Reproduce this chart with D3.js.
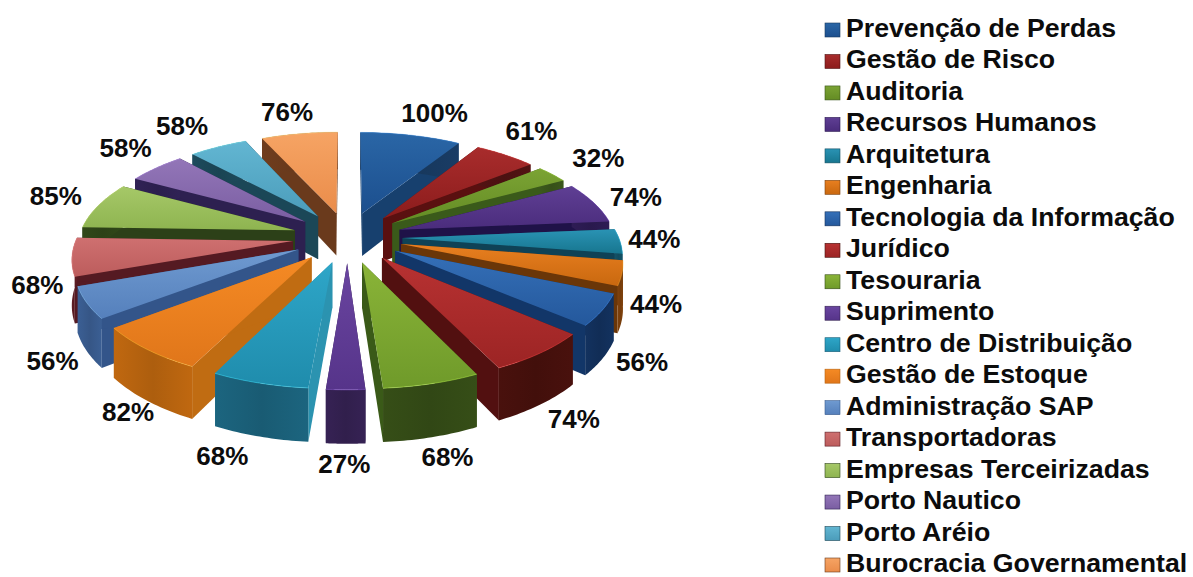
<!DOCTYPE html>
<html lang="pt">
<head>
<meta charset="utf-8">
<script src="https://cdn.jsdelivr.net/npm/d3@7/dist/d3.min.js"></script>
<style>
html,body{margin:0;padding:0;background:#fff;}
svg{display:block;}
text{font-family:"Liberation Sans",Arial,sans-serif;font-weight:bold;fill:#0c0c0c;}
</style>
</head>
<body>
<svg id="chart" width="1193" height="577"></svg>
<script>
// Áreas avaliadas e percentuais
const categories = ["Prevenção de Perdas","Gestão de Risco","Auditoria","Recursos Humanos","Arquitetura","Engenharia","Tecnologia da Informação","Jurídico","Tesouraria","Suprimento","Centro de Distribuição","Gestão de Estoque","Administração SAP","Transportadoras","Empresas Terceirizadas","Porto Nautico","Porto Aréio","Burocracia Governamental"];
const values = [100,61,32,74,44,44,56,74,68,27,68,82,56,68,85,58,58,76];

// Cores: face superior, parede externa e corte radial de cada fatia
const topLight = ["#2a66a6","#a82c2c","#7ba334","#5f3f94","#2a93b4","#e87f20","#3570b8","#b83232","#8ab438","#6a45a0","#2ea6c8","#f58a24","#6f9ad0","#cf7070","#a6c868","#9376b8","#62b6d2","#f6a464"];
const topDark = ["#1c4f8e","#8c1c1c","#648c24","#4a2c7c","#17768f","#c9680f","#24589c","#9c2424","#6f9a2a","#56348a","#1f8cac","#e0761a","#5580bc","#bc5c5c","#8eb450","#7a5ea2","#4b9cba","#ea8c4a"];
const wallColors = ["#18395f","#4e1212","#38531a","#2b1a50","#124e62","#7a3f0c","#122f5a","#45100c","#334a16","#33204f","#1a5f78","#b5620f","#385a8c","#5a1b22","#2e4418","#2d2050","#1b4757","#6a3a1c"];
const sideColors = ["#17406e","#5a1010","#3a5a1a","#1f1248","#0f4256","#6a3608","#123668","#521010","#3a5a18","#33204f","#2b93b0","#c06c12","#33558a","#551a22","#2c4018","#2d2050","#1b4757","#6a3a1c"];

const cx = 347.5, cy = 237;
const radius = 216, explode = 55, thickness = 44;
const tilt = 0.46, perspective = 0.00068;

// Ajuste fino (dx, dy) de cada rótulo em relação à posição radial
const labelNudge = [[18,-15],[7,-20],[16,-17],[-4,-15],[-30,-26],[-30,-7],[-19,-2],[-10,-6],[-3,-12],[-1,-13],[-18,-12],[26,-8],[26,8],[30,-3],[5,-19],[-4,-19],[-22,-15],[-8,-14]];

// Projeção em perspectiva: (X, Y, Z) no plano da pizza para a tela
const scaleAt = Y => 1 / (1 - perspective * Y);
const project = (X, Y, Z = 0) => {
  const s = scaleAt(Y);
  return [cx + X * s, cy + tilt * Y * s + Z * s];
};

const svg = d3.select("#chart");
const defs = svg.append("defs");

const vertical = (id, top, bottom) => {
  const g = defs.append("linearGradient").attr("id", id).attr("x1", 0).attr("y1", 0).attr("x2", 0).attr("y2", 1);
  g.append("stop").attr("offset", 0).attr("stop-color", top);
  g.append("stop").attr("offset", 1).attr("stop-color", bottom);
};
const wallGradient = (id, color) => {
  const base = d3.color(color);
  const g = defs.append("linearGradient").attr("id", id).attr("x1", 0).attr("y1", 0).attr("x2", 1).attr("y2", 0);
  [[0, 0.08], [0.5, -0.06], [1, 0.08]].forEach(([o, k]) => {
    g.append("stop").attr("offset", o).attr("stop-color", k > 0 ? base.brighter(k * 2) : base.darker(-k * 2));
  });
};

const pie = d3.pie().sort(null).value(d => d).startAngle(0).endAngle(2 * Math.PI);
const arcs = pie(values).map((a, i) => {
  const mid = (a.startAngle + a.endAngle) / 2;
  const ox = explode * Math.sin(mid), oy = -explode * Math.cos(mid);
  const samples = d3.range(0, 25).map(k => a.startAngle + (a.endAngle - a.startAngle) * k / 24);
  const rim = samples.map(t => [ox + radius * Math.sin(t), oy - radius * Math.cos(t)]);
  return {i, mid, ox, oy, rim, depth: oy + (radius * 0.6) * -Math.cos(mid)};
});

arcs.forEach(a => {
  vertical("top" + a.i, topLight[a.i], topDark[a.i]);
  wallGradient("wall" + a.i, wallColors[a.i]);
});

const line = d3.line();
const poly = pts => line(pts) + "Z";

// Desenho de trás para a frente
const slices = svg.append("g").selectAll("g")
  .data(arcs.slice().sort((p, q) => p.depth - q.depth))
  .join("g");

slices.each(function(a) {
  const g = d3.select(this);
  const apex = [a.ox, a.oy];
  [a.rim[0], a.rim[a.rim.length - 1]].forEach(end => {
    g.append("path")
      .attr("d", poly([project(...apex), project(...end), project(...end, thickness), project(...apex, thickness)]))
      .attr("fill", sideColors[a.i]);
  });
  const upper = a.rim.map(p => project(...p));
  const lower = a.rim.map(p => project(...p, thickness)).reverse();
  g.append("path").attr("d", poly(upper.concat(lower))).attr("fill", `url(#wall${a.i})`);
  g.append("path").attr("d", poly([project(...apex)].concat(upper))).attr("fill", `url(#top${a.i})`);
  // Realce fino na borda da face superior
  g.append("path").attr("d", line(upper)).attr("fill", "none")
    .attr("stroke", d3.color(topLight[a.i]).brighter(0.9)).attr("stroke-width", 1).attr("stroke-opacity", 0.45);
});

// Rótulos de porcentagem ao redor da pizza
const labelRadius = d3.scaleLinear().domain([-1, 0, 1]).range([318, 335, 300]);
svg.append("g").selectAll("text")
  .data(arcs)
  .join("text")
  .attr("text-anchor", "middle")
  .attr("font-size", 26)
  .attr("transform", a => {
    const r = labelRadius(Math.cos(a.mid));
    const [x, y] = project(r * Math.sin(a.mid), -r * Math.cos(a.mid), 41 * (1 - Math.cos(a.mid)) / 2);
    const [dx, dy] = labelNudge[a.i];
    return `translate(${x + dx},${y + 10.5 + dy})`;
  })
  .text(a => values[a.i] + "%");

// Legenda
const rowY = d3.scalePoint().domain(categories).range([28, 563]);
const legend = svg.append("g").selectAll("g").data(categories).join("g")
  .attr("transform", d => `translate(825,${rowY(d)})`);
legend.each(function(d, i) {
  vertical("key" + i, topLight[i], topDark[i]);
});
legend.append("rect").attr("y", -5).attr("width", 15).attr("height", 14)
  .attr("fill", (d, i) => `url(#key${i})`)
  .attr("stroke", (d, i) => wallColors[i]).attr("stroke-width", 0.6);
legend.append("text").attr("x", 21).attr("y", 9).attr("font-size", 26.7).text(d => d);
</script>
</body>
</html>
